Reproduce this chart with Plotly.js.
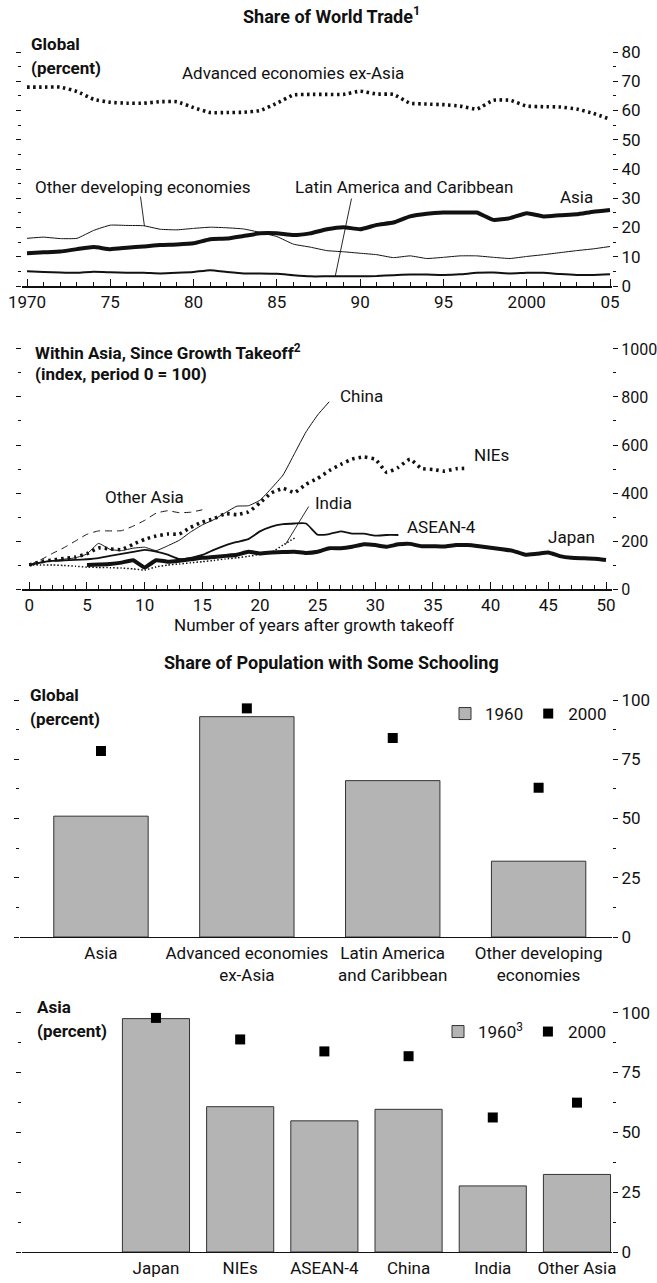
<!DOCTYPE html>
<html>
<head>
<meta charset="utf-8">
<script src="https://cdn.plot.ly/plotly-3.0.1.min.js"></script>
<style>
html,body{margin:0;padding:0;background:#fff;}
#chart{width:657px;height:1283px;}
</style>
</head>
<body>
<div id="chart"></div>
<script>
// ---------- Panel 1: Share of World Trade (percent) ----------
const years = [1970,1971,1972,1973,1974,1975,1976,1977,1978,1979,1980,1981,1982,1983,1984,1985,1986,1987,1988,1989,1990,1991,1992,1993,1994,1995,1996,1997,1998,1999,2000,2001,2002,2003,2004,2005];
const advancedExAsia = [68,68,68,66.5,63.8,62.8,62.5,62.5,63,63,61,59.3,59.3,59.4,60,62.5,65.3,65.5,65.5,65.5,66.6,65.6,65.5,62.5,62.2,62,61.5,60.5,63.5,63.5,61.5,61.3,61.2,60.5,59,57];
const asiaTrade = [11.2,11.5,11.8,12.6,13.3,12.6,13.1,13.5,14,14.2,14.6,16,16.2,17.1,18,18,17.4,18,19.4,20.1,19.4,20.9,21.7,23.8,24.7,25.1,25.1,25.1,22.6,23.2,24.9,23.8,24.2,24.5,25.4,26];
const otherDeveloping = [16.3,16.7,16.2,16.3,19,20.8,20.7,20.6,19.4,19.2,19.7,20.1,19.9,19.5,18.3,16.9,14.3,13.3,12.1,11.7,11.2,10.7,9.7,10.3,9.4,9.8,10.3,10.3,9.8,9.4,10.1,10.7,11.4,12.1,12.7,13.5];
const latinAmerica = [5,4.8,4.6,4.5,4.9,4.7,4.5,4.5,4.3,4.5,4.8,5.4,4.8,4.3,4.3,4.2,3.7,3.3,3.3,3.3,3.3,3.4,3.7,3.9,3.9,3.8,4,4.5,4.6,4.3,4.5,4.5,4.1,3.8,3.8,4];
const yearTickVals = [1970,1975,1980,1985,1990,1995,2000,2005];
const yearTickText = ['1970','75','80','85','90','95','2000','05'];

// ---------- Panel 2: Within Asia, since growth takeoff (index) ----------
const chinaX = [0,1,2,3,4,5,6,7,8,9,10,11,12,13,14,15,16,17,18,19,20,21,22,23,24,25,26];
const chinaY = [100,112,118,124,130,146,190,165,160,170,174,160,180,203,238,267,289,318,345,347,370,420,475,565,655,725,780];
const niesX = [0,1,2,3,4,5,6,7,8,9,10,11,12,13,14,15,16,17,18,19,20,21,22,23,24,25,26,27,28,29,30,31,32,33,34,35,36,37,38];
const niesY = [100,114,121,127,133,147,171,167,164,186,207,221,229,229,257,279,293,314,310,321,359,401,419,402,437,461,493,519,541,550,540,486,507,541,502,498,491,501,503];
const aseanX = [0,1,2,3,4,5,6,7,8,9,10,11,12,13,14,15,16,17,18,19,20,21,22,23,24,25,26,27,28,29,30,31,32];
const aseanY = [100,110,117,119,121,124,129,138,146,155,163,156,143,125,130,142,163,182,196,208,240,260,270,273,273,226,229,240,231,231,222,225,225];
const indiaX = [0,1,2,3,4,5,6,7,8,9,10,11,12,13,14,15,16,17,18,19,20,21,22,23];
const indiaY = [100,100,100,98,95,91,90,89,87,84,79,92,100,104,109,114,119,125,130,136,145,153,183,212];
const otherAsiaX = [0,1,2,3,4,5,6,7,8,9,10,11,12,13,14,15];
const otherAsiaY = [100,122,148,172,200,228,242,242,243,262,286,316,326,318,320,330];
const japanX = [5,6,7,8,9,10,11,12,13,14,15,16,17,18,19,20,21,22,23,24,25,26,27,28,29,30,31,32,33,34,35,36,37,38,39,40,41,42,43,44,45,46,47,48,49,50];
const japanY = [100,102,104,110,120,90,120,114,118,124,130,133,138,143,155,148,152,154,155,150,155,170,170,176,186,183,176,186,188,178,178,177,183,183,178,172,166,158,143,147,152,137,130,128,126,121];

// ---------- Panel 3: Share of population with some schooling, global ----------
const globalCats = ['Asia','Advanced economies<br>ex-Asia','Latin America<br>and Caribbean','Other developing<br>economies'];
const global1960 = [51,93,66,32];
const global2000 = [78.5,96.5,84,63];

// ---------- Panel 4: Share of population with some schooling, Asia ----------
const asiaCats = ['Japan','NIEs','ASEAN-4','China','India','Other Asia'];
const asia1960 = [97.5,60.7,54.8,59.6,27.6,32.4];
const asia2000 = [97.8,88.8,83.8,81.8,56.2,62.4];

// ---------- layout helpers ----------
const W = 657, H = 1283;
const PX = p => p / W;
const PY = p => 1 - p / H;
const FONT = 'Roboto, Liberation Sans, Arial, sans-serif';
const FS = 17;
const BLACK = '#111';

function line(x, y, width, dash, xa, ya, name) {
  return {type:'scatter', mode:'lines', x:x, y:y, xaxis:xa, yaxis:ya, name:name,
    line:{color:BLACK, width:width, dash:dash, shape:'spline', smoothing:0.4},
    showlegend:false, hoverinfo:'skip'};
}

const traces = [
  line(years, advancedExAsia, 3.6, '2.5px,3.5px', 'x', 'y', 'Advanced economies ex-Asia'),
  line(years, otherDeveloping, 1, 'solid', 'x', 'y', 'Other developing economies'),
  line(years, latinAmerica, 2, 'solid', 'x', 'y', 'Latin America and Caribbean'),
  line(years, asiaTrade, 4, 'solid', 'x', 'y', 'Asia'),

  line(otherAsiaX, otherAsiaY, 1, '7px,5px', 'x2', 'y2', 'Other Asia'),
  line(indiaX, indiaY, 1.5, '1.5px,2px', 'x2', 'y2', 'India'),
  line(chinaX, chinaY, 1, 'solid', 'x2', 'y2', 'China'),
  line(aseanX, aseanY, 1.8, 'solid', 'x2', 'y2', 'ASEAN-4'),
  line(niesX, niesY, 3.6, '2.5px,4px', 'x2', 'y2', 'NIEs'),
  line(japanX, japanY, 4, 'solid', 'x2', 'y2', 'Japan'),

  {type:'bar', x:globalCats, y:global1960, xaxis:'x3', yaxis:'y3', name:'1960', width:0.647,
   marker:{color:'#b4b4b4', line:{color:'#333', width:1}}, legend:'legend', hoverinfo:'skip'},
  {type:'scatter', mode:'markers', x:globalCats, y:global2000, xaxis:'x3', yaxis:'y3', name:'2000',
   marker:{symbol:'square', size:10, color:'#000'}, legend:'legend', hoverinfo:'skip'},

  {type:'bar', x:asiaCats, y:asia1960, xaxis:'x4', yaxis:'y4', name:'1960<sup>3</sup>', width:0.797,
   marker:{color:'#b4b4b4', line:{color:'#333', width:1}}, legend:'legend2', hoverinfo:'skip'},
  {type:'scatter', mode:'markers', x:asiaCats, y:asia2000, xaxis:'x4', yaxis:'y4', name:'2000',
   marker:{symbol:'square', size:10, color:'#000'}, legend:'legend2', hoverinfo:'skip'}
];

function yAxis(domainTop, domainBottom, xa, range, major, minor, fs) {
  return {domain:[PY(domainBottom), PY(domainTop)], anchor:xa, side:'right', range:range,
    tickmode:'linear', tick0:0, dtick:major, ticks:'outside', ticklen:5, tickwidth:1, tickcolor:BLACK,
    mirror:'ticks', showline:false, showgrid:false, zeroline:false,
    minor:{tick0:0, dtick:minor, ticks:'outside', ticklen:3, tickwidth:1, tickcolor:BLACK, showgrid:false},
    tickfont:{family:FONT, size:fs || FS, color:BLACK}, fixedrange:true};
}

const ann = [];
function txt(text, x, y, opts) {
  ann.push(Object.assign({text:text, x:PX(x), y:PY(y), xref:'paper', yref:'paper',
    showarrow:false, xanchor:'center', yanchor:'middle',
    font:{family:FONT, size:FS, color:BLACK}}, opts || {}));
}
function leader(xa, ya, x0, y0, x1, y1) {
  ann.push({text:'', xref:xa, yref:ya, axref:xa, ayref:ya, x:x1, y:y1, ax:x0, ay:y0,
    showarrow:true, arrowhead:0, arrowwidth:0.9, arrowcolor:BLACK, standoff:0, startstandoff:0});
}

// titles
txt('<b>Share of World Trade<sup>1</sup></b>', 331, 15, {font:{family:FONT, size:18, color:BLACK}});
txt('<b>Share of Population with Some Schooling</b>', 331, 663, {font:{family:FONT, size:18, color:BLACK}});
// panel headings
txt('<b>Global</b>', 29, 44, {xanchor:'left'});
txt('<b>(percent)</b>', 29, 68, {xanchor:'left'});
txt('<b>Within Asia, Since Growth Takeoff<sup>2</sup></b>', 33, 352, {xanchor:'left'});
txt('<b>(index, period 0 = 100)</b>', 33, 374, {xanchor:'left'});
txt('<b>Global</b>', 28, 695, {xanchor:'left'});
txt('<b>(percent)</b>', 28, 719, {xanchor:'left'});
txt('<b>Asia</b>', 35, 1007, {xanchor:'left'});
txt('<b>(percent)</b>', 35, 1031, {xanchor:'left'});
// panel 1 series labels
txt('Advanced economies ex-Asia', 293, 73);
txt('Other developing economies', 142, 187);
txt('Latin America and Caribbean', 404, 187);
txt('Asia', 576, 197);
leader('x', 'y', 1976.8, 31.1, 1977.05, 20.5);
leader('x', 'y', 1989.5, 30.4, 1988.5, 3.2);
// panel 2 series labels
txt('China', 361, 396);
txt('NIEs', 491, 455);
txt('Other Asia', 144, 497);
txt('India', 333, 503);
txt('ASEAN-4', 441, 527);
txt('Japan', 571, 537);
txt('Number of years after growth takeoff', 314, 625);
leader('x2', 'y2', 24.3, 350, 22.2, 185);

const layout = {
  width:W, height:H, margin:{l:0, r:0, t:0, b:0}, paper_bgcolor:'#fff', plot_bgcolor:'rgba(0,0,0,0)',
  font:{family:FONT, size:FS, color:BLACK},
  xaxis:{domain:[PX(22), PX(612)], anchor:'y', range:[1969.70, 2005.12], tickmode:'array',
    tickvals:yearTickVals, ticktext:yearTickText, ticks:'inside', ticklen:7, tickwidth:1, tickcolor:BLACK,
    minor:{tick0:1970, dtick:1, ticks:'inside', ticklen:4, tickwidth:1, tickcolor:BLACK, showgrid:false},
    showline:true, linewidth:2, linecolor:BLACK, showgrid:false, zeroline:false,
    tickfont:{family:FONT, size:FS, color:BLACK}},
  yaxis:yAxis(46, 286, 'x', [0, 82.05], 10, 5),

  xaxis2:{domain:[PX(22), PX(612)], anchor:'y2', range:[-0.633, 50.52], tickmode:'linear', tick0:0, dtick:5,
    ticks:'inside', ticklen:7, tickwidth:1, tickcolor:BLACK,
    minor:{tick0:0, dtick:1, ticks:'inside', ticklen:4, tickwidth:1, tickcolor:BLACK, showgrid:false},
    showline:true, linewidth:2, linecolor:BLACK, showgrid:false, zeroline:false,
    tickfont:{family:FONT, size:FS, color:BLACK}},
  yaxis2:yAxis(347, 589, 'x2', [0, 1008.3], 200, 100, 16),

  xaxis3:{domain:[PX(20), PX(612)], anchor:'y3', type:'category', range:[-0.555, 3.503],
    ticks:'', showline:true, linewidth:1.2, linecolor:BLACK, showgrid:false, zeroline:false,
    tickfont:{family:FONT, size:FS, color:BLACK}},
  yaxis3:yAxis(697, 937, 'x3', [0, 101.3], 25, 12.5),

  xaxis4:{domain:[PX(22), PX(612)], anchor:'y4', type:'category', range:[-1.591, 5.416],
    ticks:'', showline:true, linewidth:1.2, linecolor:BLACK, showgrid:false, zeroline:false,
    tickfont:{family:FONT, size:FS, color:BLACK}},
  yaxis4:yAxis(1010, 1252, 'x4', [0, 101.1], 25, 12.5),

  legend:{x:PX(612), xanchor:'right', y:PY(714), yanchor:'middle', orientation:'h',
    bgcolor:'rgba(0,0,0,0)', font:{family:FONT, size:FS, color:BLACK}, itemwidth:30, traceorder:'normal'},
  legend2:{x:PX(612), xanchor:'right', y:PY(1032), yanchor:'middle', orientation:'h',
    bgcolor:'rgba(0,0,0,0)', font:{family:FONT, size:FS, color:BLACK}, itemwidth:30, traceorder:'normal'},
  annotations:ann,
  showlegend:true
};

Plotly.newPlot('chart', traces, layout, {staticPlot:true, displayModeBar:false});
</script>
</body>
</html>
